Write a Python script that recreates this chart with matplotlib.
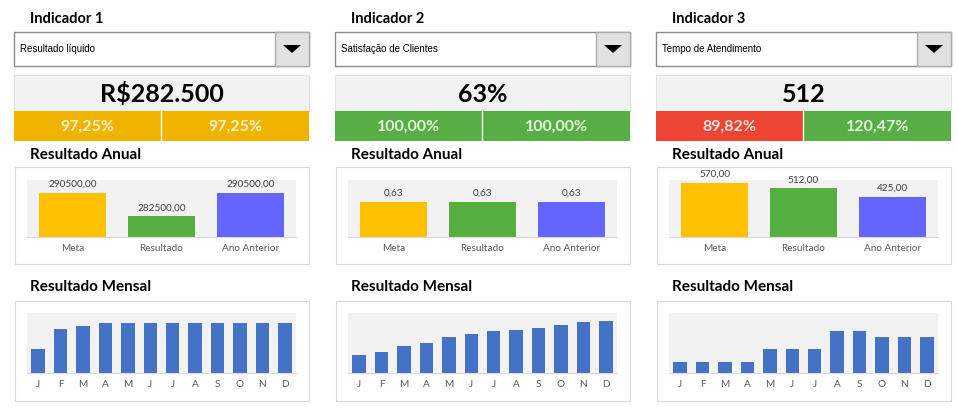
import matplotlib

matplotlib.use("Agg")
import matplotlib.pyplot as plt
from matplotlib.patches import Rectangle, Polygon

# ---- data ----
indicadores = ["Indicador 1", "Indicador 2", "Indicador 3"]
selecoes = ["Resultado líquido", "Satisfação de Clientes", "Tempo de Atendimento"]
destaques = ["R$282.500", "63%", "512"]
perc_meta = [97.25, 100.00, 89.82]
perc_ano_anterior = [97.25, 100.00, 120.47]

categorias_anual = ["Meta", "Resultado", "Ano Anterior"]
meta = [290500.0, 0.63, 570.0]
resultado = [282500.0, 0.63, 512.0]
ano_anterior = [290500.0, 0.63, 425.0]

meses = ["J", "F", "M", "A", "M", "J", "J", "A", "S", "O", "N", "D"]
mensal_1 = [48, 88, 94, 100, 100, 100, 100, 100, 100, 100, 100, 100]
mensal_2 = [0.24, 0.28, 0.36, 0.40, 0.48, 0.52, 0.56, 0.57, 0.60, 0.64, 0.68, 0.69]
mensal_3 = [128, 128, 128, 128, 280, 280, 280, 490, 490, 420, 420, 420]

# ---- style ----
W, H = 958, 409
FONT = "Lato"
panel_x = [14, 335, 656]
panel_w = 295
band_left = ["#F0B400", "#56AE45", "#EE4433"]
band_right = ["#F0B400", "#56AE45", "#56AE45"]
band_text = {"#F0B400": "#FFF2CC", "#56AE45": "#E6F5DE", "#EE4433": "#FCE4DC"}
bar_colors = ["#FFC000", "#55AF3F", "#6464FF"]
month_color = "#4472C4"
anual_ylim = [(275400, 295100), (0, 1.03), (0, 600)]
mensal_ylim = [(0, 120), (0, 0.8), (0, 700)]

fig = plt.figure(figsize=(W / 100, H / 100), dpi=100)
bg = fig.add_axes([0, 0, 1, 1])
bg.set_xlim(0, W)
bg.set_ylim(H, 0)
bg.axis("off")


def px_axes(x0, y0, x1, y1):
    return fig.add_axes([x0 / W, 1 - y1 / H, (x1 - x0) / W, (y1 - y0) / H])


def fmt(v):
    return f"{v:.2f}".replace(".", ",")


def style_chart(ax, labels, ylim):
    ax.set_facecolor("#F2F2F2")
    ax.set_ylim(*ylim)
    for s in ("top", "left", "right"):
        ax.spines[s].set_visible(False)
    ax.spines["bottom"].set_color("#D9D9D9")
    ax.set_yticks([])
    ax.set_xticks(range(len(labels)))
    ax.set_xticklabels(labels, fontsize=7.2, color="#595959", family=FONT)
    ax.tick_params(axis="x", length=0, pad=5)


series = [meta, resultado, ano_anterior]
mensais = [mensal_1, mensal_2, mensal_3]

for i, x0 in enumerate(panel_x):
    x1 = x0 + panel_w
    # header and dropdown
    bg.text(x0 + 16, 19, indicadores[i], fontsize=10.5, fontweight="bold",
            family=FONT, va="center")
    bg.add_patch(Rectangle((x0, 32), panel_w, 34, facecolor="white",
                           edgecolor="#8C8C8C", lw=1))
    bg.add_patch(Rectangle((x1 - 34, 32), 34, 34, facecolor="#E1E1E1",
                           edgecolor="#ADADAD", lw=1))
    cx = x1 - 17
    bg.add_patch(Polygon([(cx - 9, 45), (cx + 9, 45), (cx, 53)],
                         closed=True, facecolor="black", edgecolor="none"))
    bg.text(x0 + 6, 49, selecoes[i], fontsize=7, family="Liberation Sans",
            va="center")

    # big number and percentage band
    bg.add_patch(Rectangle((x0, 75), panel_w, 36, facecolor="#F2F2F2",
                           edgecolor="#E3E3E3", lw=0.8))
    bg.text(x0 + panel_w / 2, 94, destaques[i], fontsize=18, fontweight="bold",
            family=FONT, ha="center", va="center")
    half = panel_w / 2
    for j, (col, val) in enumerate([(band_left[i], perc_meta[i]),
                                    (band_right[i], perc_ano_anterior[i])]):
        bg.add_patch(Rectangle((x0 + j * half, 111), half, 30, facecolor=col,
                               edgecolor="none"))
        bg.text(x0 + j * half + half / 2, 127, fmt(val) + "%", fontsize=11.5,
                fontweight="bold", family=FONT, ha="center", va="center",
                color=band_text[col])
    bg.plot([x0 + half, x0 + half], [111, 141], color="white", lw=1)

    # annual chart
    bg.text(x0 + 16, 155, "Resultado Anual", fontsize=11, fontweight="bold",
            family=FONT, va="center")
    bg.add_patch(Rectangle((x0 + 1, 167), panel_w - 1, 97, facecolor="white",
                           edgecolor="#D9D9D9", lw=0.8))
    ax = px_axes(x0 + 13, 180, x1 - 13, 237)
    vals = [s[i] for s in series]
    bars = ax.bar(range(3), vals, width=0.75, color=bar_colors)
    style_chart(ax, categorias_anual, anual_ylim[i])
    ax.bar_label(bars, labels=[fmt(v) for v in vals], padding=3, fontsize=7.2,
                 color="#404040", family=FONT)

    # monthly chart
    bg.text(x0 + 16, 287, "Resultado Mensal", fontsize=11, fontweight="bold",
            family=FONT, va="center")
    bg.add_patch(Rectangle((x0 + 1, 301), panel_w - 1, 100, facecolor="white",
                           edgecolor="#D9D9D9", lw=0.8))
    ax = px_axes(x0 + 13, 313, x1 - 13, 373)
    ax.bar(range(12), mensais[i], width=0.6, color=month_color)
    ax.set_xlim(-0.5, 11.5)
    style_chart(ax, meses, mensal_ylim[i])

fig.savefig("out.png", dpi=100, facecolor="white")
